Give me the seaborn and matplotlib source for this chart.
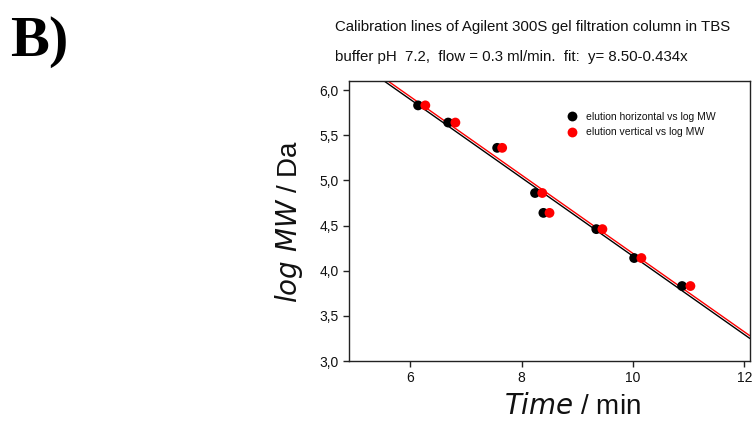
import matplotlib
matplotlib.use("Agg")
import matplotlib.pyplot as plt
import seaborn as sns
import pandas as pd

# ---- data ----
time_horizontal = [6.14, 6.68, 7.56, 8.24, 8.39, 9.34, 10.02, 10.88]
time_vertical = [6.27, 6.81, 7.65, 8.37, 8.50, 9.45, 10.15, 11.03]
log_mw = [5.83, 5.64, 5.36, 4.86, 4.64, 4.46, 4.14, 3.83]
series_names = ["elution horizontal vs log MW", "elution vertical vs log MW"]
fit_intercepts = [8.50, 8.53]
fit_slope = -0.434
x_ticks = [6, 8, 10, 12]
y_ticks = [3.0, 3.5, 4.0, 4.5, 5.0, 5.5, 6.0]
y_tick_labels = ["3,0", "3,5", "4,0", "4,5", "5,0", "5,5", "6,0"]
title_lines = ["Calibration lines of Agilent 300S gel filtration column in TBS",
               "buffer pH  7.2,  flow = 0.3 ml/min.  fit:  y= 8.50-0.434x"]

df = pd.DataFrame({
    "time": time_horizontal + time_vertical,
    "logmw": log_mw + log_mw,
    "series": [series_names[0]] * len(log_mw) + [series_names[1]] * len(log_mw),
})

sns.set_theme(style="ticks")
plt.rcParams["font.family"] = ["Liberation Sans", "DejaVu Sans"]
plt.rcParams["text.color"] = "#111111"
plt.rcParams["axes.labelcolor"] = "#111111"

fig = plt.figure(figsize=(7.54, 4.21), dpi=100)
ax = fig.add_axes([0.4629, 0.1425, 0.9947 - 0.4629, 0.8076 - 0.1425])

colors = ["black", "red"]
for b, c in zip(fit_intercepts, colors):
    ax.axline((0, b), slope=fit_slope, color=c, lw=1.0, zorder=1)

sns.scatterplot(data=df, x="time", y="logmw", hue="series",
                palette=dict(zip(series_names, colors)), s=50,
                edgecolor="none", ax=ax, zorder=3)

ax.set_xlim(4.9, 12.1)
ax.set_ylim(3.0, 6.1)
ax.set_xticks(x_ticks)
ax.set_yticks(y_ticks)
ax.set_yticklabels(y_tick_labels)
ax.tick_params(axis="both", labelsize=10, length=4, width=1, colors="#222222",
               labelcolor="#111111", direction="out")
for sp in ax.spines.values():
    sp.set_color("#222222")
    sp.set_linewidth(1.0)

ax.set_xlabel(r"$\mathit{Time}$ / min", fontsize=20, va="center")
ax.xaxis.set_label_coords((572 - 349) / 401, -0.165)
ax.set_ylabel(r"$\mathit{log\ MW}$ / Da", fontsize=20, labelpad=10)

leg = ax.legend(loc="upper left", bbox_to_anchor=(0.52, 0.905), frameon=False,
                fontsize=7.5, handletextpad=0.3, labelspacing=0.55,
                markerscale=1.0, borderaxespad=0)

for i, t in enumerate(title_lines):
    fig.text(335 / 754, 1 - (27 + 30 * i) / 421, t, fontsize=10.8,
             ha="left", va="center", color="#111111")

fig.text(10 / 754, 1 - 42 / 421, "B)", fontsize=42, fontweight="bold",
         family="Liberation Serif", ha="left", va="center", color="black")

fig.savefig("out.png", dpi=100)
